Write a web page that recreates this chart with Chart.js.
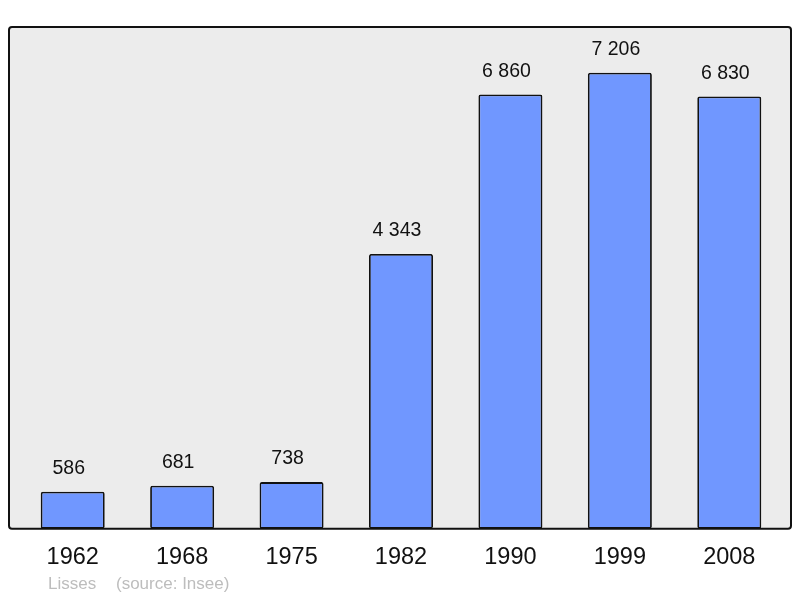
<!DOCTYPE html>
<html>
<head>
<meta charset="utf-8">
<script src="https://cdn.jsdelivr.net/npm/chart.js@4/dist/chart.umd.min.js"></script>
<style>
  html, body { margin: 0; padding: 0; background: #fff; }
  #chart { display: block; }
</style>
</head>
<body>
<canvas id="chart" width="800" height="598"></canvas>
<script>
// population par recensement
const years = ['1962', '1968', '1975', '1982', '1990', '1999', '2008'];
const population = [586, 681, 738, 4343, 6860, 7206, 6830];
const yMax = 7927;
const commune = 'Lisses';
const source = '(source: Insee)';

const fmt = (v) => String(v).replace(/\B(?=(\d{3})+(?!\d))/g, ' ');

// fond gris + cadre noir autour de la zone du graphe
const framePlugin = {
  id: 'frame',
  beforeDraw(chart) {
    const { ctx, chartArea: a } = chart;
    const x = a.left - 9, y = a.top, w = a.right - a.left + 16, h = a.bottom - a.top;
    ctx.save();
    ctx.beginPath();
    ctx.roundRect(x, y, w, h, 3);
    ctx.fillStyle = '#ececec';
    ctx.fill();
    ctx.restore();
  },
  afterDatasetsDraw(chart) {
    const { ctx, chartArea: a } = chart;
    const x = a.left - 9, y = a.top, w = a.right - a.left + 16, h = a.bottom - a.top;
    ctx.save();
    ctx.beginPath();
    ctx.roundRect(x, y, w, h, 3);
    ctx.lineWidth = 2;
    ctx.strokeStyle = '#111';
    ctx.stroke();

    // valeurs au-dessus des barres (légèrement décalées à gauche)
    ctx.font = '19.5px "Liberation Sans", Arial, sans-serif';
    ctx.fillStyle = '#111';
    ctx.textAlign = 'center';
    ctx.textBaseline = 'middle';
    chart.getDatasetMeta(0).data.forEach((bar, i) => {
      ctx.fillText(fmt(population[i]), bar.x - 4, bar.y - 23);
    });

    // pied de graphe
    ctx.font = '17px "Liberation Sans", Arial, sans-serif';
    ctx.fillStyle = '#bdbdbd';
    ctx.textAlign = 'left';
    ctx.fillText(commune, 48, 584);
    ctx.fillText(source, 116, 584);
    ctx.restore();
  },
};

new Chart(document.getElementById('chart'), {
  type: 'bar',
  data: {
    labels: years,
    datasets: [{
      data: population,
      backgroundColor: '#7097ff',
      borderColor: '#111',
      borderWidth: 1.8,
      borderRadius: 2,
      borderSkipped: false,
      categoryPercentage: 0.585,
      barPercentage: 1,
    }],
  },
  options: {
    responsive: false,
    animation: false,
    layout: { padding: { left: 18, right: 16, top: 27, bottom: 11 } },
    plugins: { legend: { display: false }, tooltip: { enabled: false } },
    scales: {
      x: {
        grid: { display: false, drawTicks: false },
        border: { display: false },
        ticks: {
          color: '#111',
          padding: 15,
          font: { family: '"Liberation Sans", Arial, sans-serif', size: 23.5 },
        },
      },
      y: { display: false, min: 0, max: yMax },
    },
  },
  plugins: [framePlugin],
});
</script>
</body>
</html>
